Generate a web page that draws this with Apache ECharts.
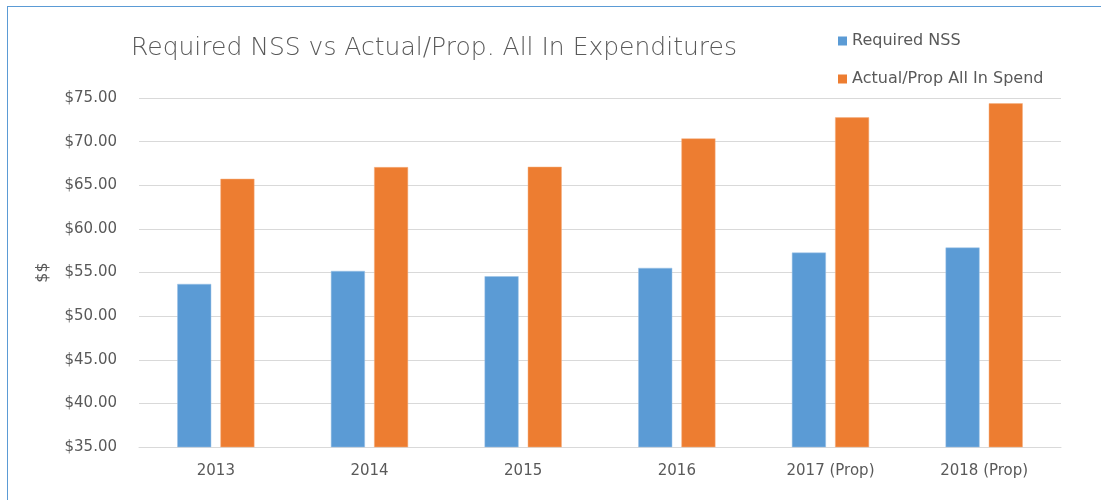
<!DOCTYPE html>
<html>
<head>
<meta charset="utf-8">
<script src="https://cdn.jsdelivr.net/npm/echarts@6/dist/echarts.min.js"></script>
<style>
  html, body { margin: 0; padding: 0; background: #fff; overflow: hidden; }
  #frame { position: absolute; left: 7px; top: 6px; width: 1110px; height: 510px; border: 1px solid #5b9bd5; box-sizing: border-box; }
  #chart { position: absolute; left: 0; top: 0; width: 1101px; height: 500px; }
</style>
</head>
<body>
<div id="frame"></div>
<div id="chart"></div>
<script>
const categories = ["2013", "2014", "2015", "2016", "2017 (Prop)", "2018 (Prop)"];
const requiredNss = [53.69, 55.18, 54.57, 55.53, 57.28, 57.86];
const actualSpend = [65.74, 67.08, 67.12, 70.37, 72.78, 74.39];

const textColor = "#595959";
const font = "DejaVu Sans";

const myChart = echarts.init(document.getElementById("chart"));
myChart.setOption({
  animation: false,
  title: {
    text: "Required NSS vs Actual/Prop. All In Expenditures",
    left: 126,
    top: 31,
    textStyle: { color: textColor, fontSize: 25, fontWeight: 200, fontFamily: font },
  },
  legend: {
    orient: "vertical",
    left: 833,
    top: 28,
    itemWidth: 9,
    itemHeight: 9,
    itemGap: 22,
    icon: "rect",
    itemStyle: { borderWidth: 0 },
    textStyle: { color: textColor, fontSize: 16, fontFamily: font },
  },
  grid: { left: 139, right: 40, top: 98, bottom: 53 },
  xAxis: {
    type: "category",
    data: categories,
    axisTick: { show: false },
    axisLine: { lineStyle: { color: "#d9d9d9", width: 1 } },
    axisLabel: { color: textColor, fontSize: 15, fontFamily: font, margin: 17 },
  },
  yAxis: {
    type: "value",
    min: 35,
    max: 75,
    interval: 5,
    name: "$$",
    nameLocation: "middle",
    nameGap: 88,
    nameRotate: 90,
    nameTextStyle: { color: textColor, fontSize: 16, fontFamily: font },
    axisLabel: {
      color: textColor,
      fontSize: 15,
      fontFamily: font,
      margin: 22,
      formatter: (v) => "$" + v.toFixed(2),
    },
    splitLine: { lineStyle: { color: "#d9d9d9", width: 1 } },
  },
  series: [
    {
      name: "Required NSS",
      type: "bar",
      data: requiredNss,
      barWidth: 34,
      barGap: "27%",
      itemStyle: { color: "#5b9bd5", borderColor: "#9dc3e6", borderWidth: 0.5 },
    },
    {
      name: "Actual/Prop All In Spend",
      type: "bar",
      data: actualSpend,
      barWidth: 34,
      itemStyle: { color: "#ed7d31", borderColor: "#f4b183", borderWidth: 0.5 },
    },
  ],
});
</script>
</body>
</html>
